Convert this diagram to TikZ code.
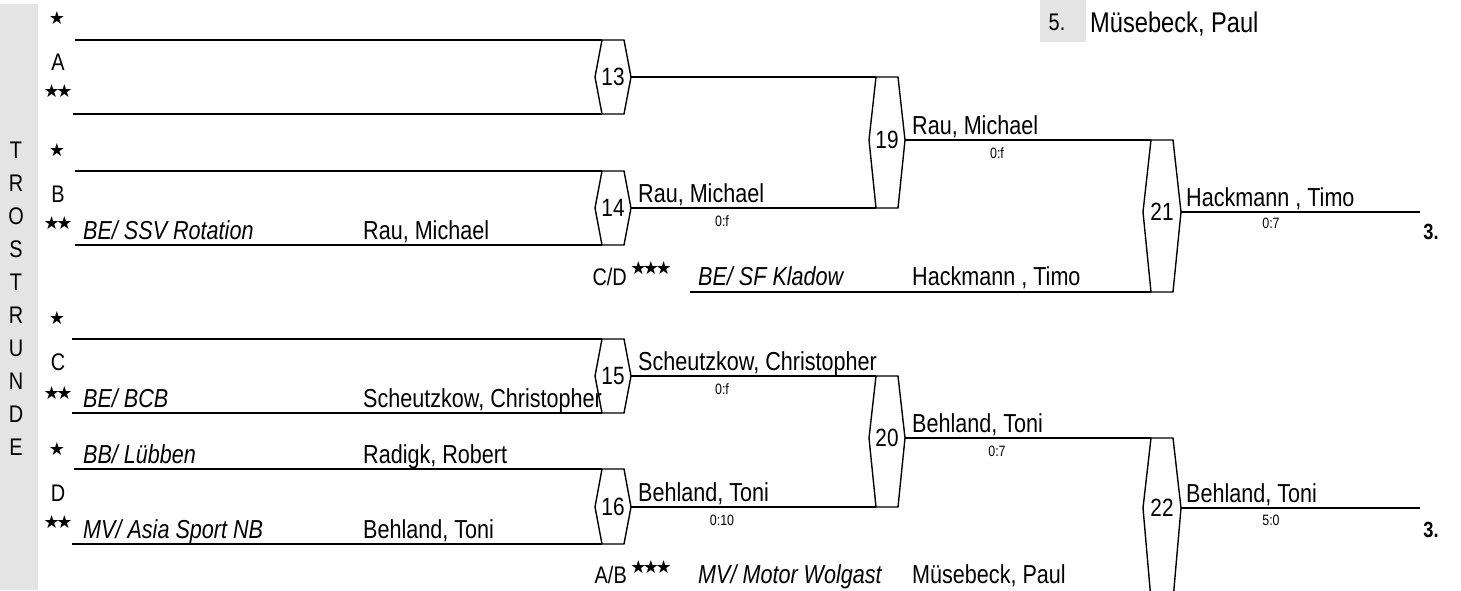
\documentclass[tikz,border=0pt]{standalone}
\usepackage{fontspec}
\setmainfont{Liberation Sans}[FakeStretch=0.83]
\newfontfamily\starfont{DejaVu Sans}
\usetikzlibrary{calc}
\definecolor{bandgray}{HTML}{E4E4E4}
\newcommand\bracketHex[8]{%
  \draw[hexline] (#2,#4) -- (#3,#4) -- (#3+#8,#6) -- (#3,#5) -- (#2,#5) -- (#2-#8,#6) -- cycle;
  \coordinate (#1-tl) at (#2,#4);
  \coordinate (#1-bl) at (#2,#5);
  \coordinate (#1-r) at (#3+#8,#6);
  \node[hexnum] (#1) at ({(#2+#3)/2},#6) {#7};
}
\newcommand\stk{\kern-3.5pt}
\begin{document}
\begin{tikzpicture}[x=1pt,y=-1pt,
  hl/.style={line width=1.8pt},
  hexline/.style={line width=1.4pt, line join=miter},
  hexnum/.style={font=\fontsize{25}{27}\selectfont, inner sep=0pt},
  pname/.style={font=\fontsize{26}{28}\selectfont, inner sep=0pt, anchor=base west},
  club/.style={font=\fontsize{26}{28}\selectfont\itshape, inner sep=0pt, anchor=base west},
  score/.style={font=\fontsize{15}{16}\selectfont, inner sep=0pt},
  grp/.style={font=\fontsize{24}{26}\selectfont, inner sep=0pt},
  stars/.style={font=\starfont\fontsize{18}{18}\selectfont, inner sep=0pt},
  band/.style={font=\fontsize{24}{26}\selectfont, inner sep=0pt},
  place/.style={font=\fontsize{22}{24}\selectfont\bfseries, inner sep=0pt}]
\useasboundingbox (0,0) rectangle (1461,590);
\clip (0,0) rectangle (1461,590);
% left band
\fill[bandgray] (0,4) rectangle (38,590);
\foreach \l [count=\i from 0] in {T,R,O,S,T,R,U,N,D,E}
  \node[band] (tr\i) at (16,150+33*\i) {\l};
% top right box
\fill[bandgray] (1040,0) rectangle (1086,42);
\node[font=\fontsize{24}{26}\selectfont, inner sep=0pt] (p5) at (1057,22) {5.};
\node[font=\fontsize{28.5}{30}\selectfont, inner sep=0pt, anchor=base west] (p5n) at (1090,32) {Müsebeck, Paul};

% hexagons
\bracketHex{h13}{602}{624}{40}{114}{77}{13}{7}
\bracketHex{h14}{602}{624}{171}{245}{208}{14}{7}
\bracketHex{h15}{602}{624}{339}{413}{376}{15}{7}
\bracketHex{h16}{602}{624}{469}{544}{507}{16}{7}
\bracketHex{h19}{876}{898}{77}{208}{140}{19}{7}
\bracketHex{h20}{876}{898}{376}{507}{438}{20}{7}
\bracketHex{h21}{1151}{1173}{140}{292}{212}{21}{8}
\bracketHex{h22}{1151}{1173}{438}{600}{508}{22}{8}

% entry lines
\coordinate (a1) at (75,40);  \coordinate (a2) at (73,114);
\coordinate (b1) at (75,171); \coordinate (b2) at (75,245);
\coordinate (c1) at (72,339); \coordinate (c2) at (72,413);
\coordinate (d1) at (74,469); \coordinate (d2) at (72,544);
\coordinate (cd) at (690,292);
\coordinate (e21) at (1420,212);
\coordinate (e22) at (1420,508);
\draw[hl] (a1) -- (h13-tl);
\draw[hl] (a2) -- (h13-bl);
\draw[hl] (b1) -- (h14-tl);
\draw[hl] (b2) -- (h14-bl);
\draw[hl] (c1) -- (h15-tl);
\draw[hl] (c2) -- (h15-bl);
\draw[hl] (d1) -- (h16-tl);
\draw[hl] (d2) -- (h16-bl);
\draw[hl] (h13-r) -- (h19-tl);
\draw[hl] (h14-r) -- (h19-bl);
\draw[hl] (h15-r) -- (h20-tl);
\draw[hl] (h16-r) -- (h20-bl);
\draw[hl] (h19-r) -- (h21-tl);
\draw[hl] (h20-r) -- (h22-tl);
\draw[hl] (cd) -- (h21-bl);
\draw[hl] (h21-r) -- (e21);
\draw[hl] (h22-r) -- (e22);

% group labels and stars
\node[stars] (sA1) at (57,18) {★};
\node[grp] (gA) at (58,62) {A};
\node[stars] (sA2) at (58,91) {★\stk★};
\node[stars] (sB1) at (57,150) {★};
\node[grp] (gB) at (58,194) {B};
\node[stars] (sB2) at (58,223) {★\stk★};
\node[stars] (sC1) at (57,318) {★};
\node[grp] (gC) at (58,362) {C};
\node[stars] (sC2) at (58,393) {★\stk★};
\node[stars] (sD1) at (57,449) {★};
\node[grp] (gD) at (58,493) {D};
\node[stars] (sD2) at (58,522) {★\stk★};

% entries
\node[club] (cB) at (83,239) {BE/ SSV Rotation};
\node[pname] (pB) at (363,239) {Rau, Michael};
\node[club] (cC) at (83,407) {BE/ BCB};
\node[pname] (pC) at (363,407) {Scheutzkow, Christopher};
\node[club] (cD1) at (83,463) {BB/ Lübben};
\node[pname] (pD1) at (363,463) {Radigk, Robert};
\node[club] (cD2) at (83,538) {MV/ Asia Sport NB};
\node[pname] (pD2) at (363,538) {Behland, Toni};

% C/D and A/B rows
\node[grp, anchor=base east] (lCD) at (627,285) {C/D};
\node[stars] (sCD) at (651,268) {★\stk★\stk★};
\node[club] (cCD) at (698,285) {BE/ SF Kladow};
\node[pname] (pCD) at (912,285) {Hackmann , Timo};
\node[grp, anchor=base east] (lAB) at (627,583) {A/B};
\node[stars] (sAB) at (651,567) {★\stk★\stk★};
\node[club] (cAB) at (698,583) {MV/ Motor Wolgast};
\node[pname] (pAB) at (912,583) {Müsebeck, Paul};

% winners
\node[pname] (w14) at (638,202) {Rau, Michael};
\node[score] (s14) at (722,221) {0:f};
\node[pname] (w15) at (638,370) {Scheutzkow, Christopher};
\node[score] (s15) at (722,389) {0:f};
\node[pname] (w16) at (638,501) {Behland, Toni};
\node[score] (s16) at (722,520) {0:10};
\node[pname] (w19) at (912,134) {Rau, Michael};
\node[score] (s19) at (997,153) {0:f};
\node[pname] (w20) at (912,432) {Behland, Toni};
\node[score] (s20) at (997,451) {0:7};
\node[pname] (w21) at (1186,206) {Hackmann , Timo};
\node[score] (s21) at (1271,223) {0:7};
\node[pname] (w22) at (1186,502) {Behland, Toni};
\node[score] (s22) at (1271,520) {5:0};
\node[place] (r21) at (1431,232) {3.};
\node[place] (r22) at (1431,530) {3.};
\end{tikzpicture}
\end{document}
